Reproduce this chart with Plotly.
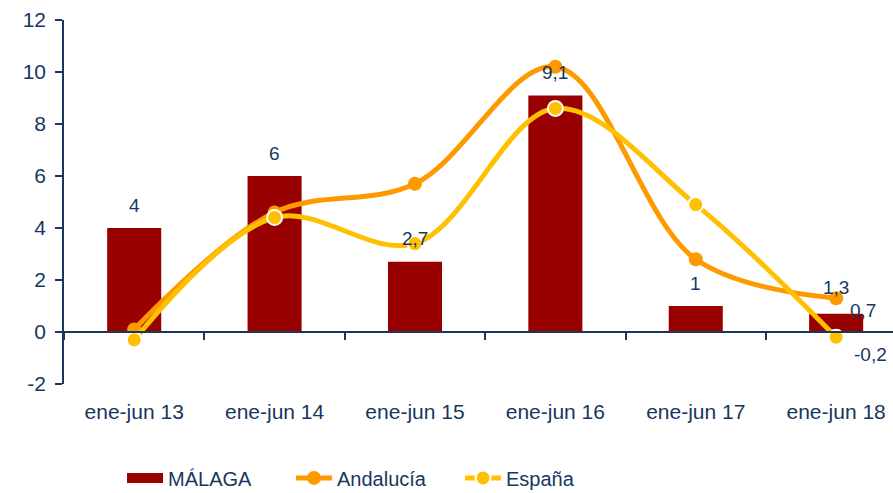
import plotly.graph_objects as go

categories = ["ene-jun 13", "ene-jun 14", "ene-jun 15", "ene-jun 16", "ene-jun 17", "ene-jun 18"]
malaga = [4, 6, 2.7, 9.1, 1, 0.7]
andalucia = [0.1, 4.6, 5.7, 10.2, 2.8, 1.3]
espana = [-0.3, 4.4, 3.4, 8.6, 4.9, -0.2]
y_ticks = [-2, 0, 2, 4, 6, 8, 10, 12]

NAVY = "#17375E"
FONT = "Liberation Sans, Arial, sans-serif"
BAR_COLOR = "#990000"

fig = go.Figure()
fig.add_trace(go.Bar(
    x=categories, y=malaga, name="MÁLAGA", legendgroup="m", showlegend=False,
    marker=dict(color=BAR_COLOR, line=dict(width=0)),
    width=0.385,
))
# legend proxy for the bar series (wide rectangle swatch)
fig.add_trace(go.Scatter(
    x=[categories[0]], y=[None], name="MÁLAGA", legendgroup="m", mode="lines",
    line=dict(color=BAR_COLOR, width=14), hoverinfo="skip",
))
fig.add_trace(go.Scatter(
    x=categories, y=andalucia, name="Andalucía", mode="lines+markers",
    line=dict(color="#FF9900", width=5, shape="spline", smoothing=1.0),
    marker=dict(size=14, color="#FF9900"),
))
fig.add_trace(go.Scatter(
    x=categories, y=espana, name="España", mode="lines+markers",
    line=dict(color="#FFC000", width=5, shape="spline", smoothing=1.0),
    marker=dict(size=15, color="#FFC000", line=dict(color="white", width=2)),
))
# helper axis for the category-boundary ticks on the zero line
bounds = [i - 0.5 for i in range(len(categories) + 1)]
fig.add_trace(go.Scatter(x=bounds, y=[None] * len(bounds), xaxis="x2",
                         showlegend=False, hoverinfo="skip", mode="lines"))

def fmt(v):
    return ("%g" % v).replace(".", ",")

LBL = dict(size=19, color=NAVY, family=FONT)
annotations = []
for i, (c, v) in enumerate(zip(categories, malaga)):
    last = i == len(categories) - 1
    annotations.append(dict(x=c, y=v, text=fmt(v), showarrow=False,
                            xshift=27 if last else 0, yshift=3 if last else 23, font=LBL))
annotations.append(dict(x=categories[-1], y=andalucia[-1], text=fmt(andalucia[-1]),
                        showarrow=False, yshift=11, font=LBL))
annotations.append(dict(x=categories[-1], y=espana[-1], text=fmt(espana[-1]),
                        showarrow=False, xshift=34, yshift=-17, font=LBL))

xr = [-0.5, 5.405]
fig.update_layout(
    width=893, height=493,
    margin=dict(l=64, r=0, t=20, b=109, autoexpand=False),
    paper_bgcolor="white", plot_bgcolor="white",
    font=dict(family=FONT, color=NAVY, size=21),
    showlegend=True,
    legend=dict(orientation="h", x=0.07, xanchor="left", y=-0.258, yanchor="middle",
                font=dict(size=20, color=NAVY, family=FONT),
                entrywidth=118, entrywidthmode="pixels", itemwidth=36,
                traceorder="normal"),
    xaxis=dict(type="category", range=xr, showgrid=False, showline=False, ticks="",
               zeroline=False, tickfont=dict(size=21, color=NAVY), automargin=False,
               ticklabelstandoff=13),
    xaxis2=dict(range=xr, overlaying="x", anchor="free", position=2 / 14,
                tickmode="array", tickvals=bounds, ticks="outside", ticklen=7,
                tickcolor=NAVY, tickwidth=1.5, showline=True, linecolor=NAVY, linewidth=1.5,
                showticklabels=False, showgrid=False, zeroline=False, automargin=False),
    yaxis=dict(range=[-2, 12], tickmode="array", tickvals=y_ticks,
               ticktext=[str(t) for t in y_ticks], showgrid=False, zeroline=False,
               showline=True, linecolor=NAVY, linewidth=1.5, ticks="outside", ticklen=7,
               tickcolor=NAVY, tickwidth=1.5, tickfont=dict(size=21, color=NAVY),
               automargin=False, ticklabelstandoff=5),
    annotations=annotations,
    separators=",.",
)

fig.write_html("out.html", config={"displayModeBar": False},
               post_script="document.body.style.margin='0';document.body.style.overflow='hidden';")
